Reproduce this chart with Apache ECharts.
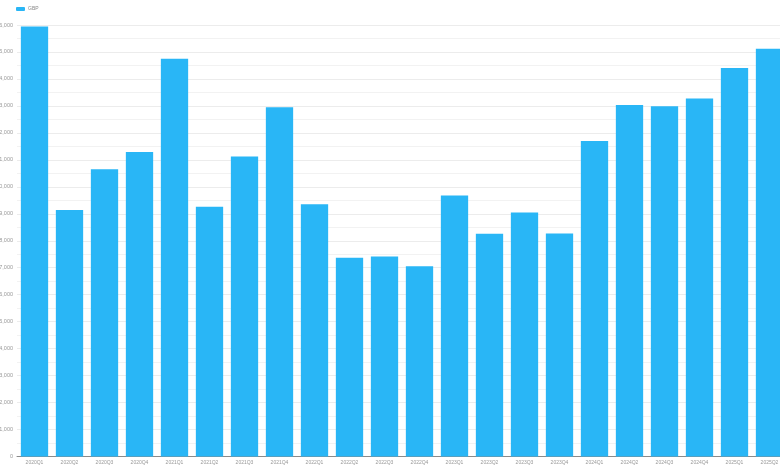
<!DOCTYPE html>
<html>
<head>
<meta charset="utf-8">
<script src="https://cdn.jsdelivr.net/npm/echarts@6/dist/echarts.min.js"></script>
<style>
html,body{margin:0;padding:0;overflow:hidden;background:#fff;}
#chart{width:787px;height:470px;}
</style>
</head>
<body>
<div id="chart"></div>
<script>
var categories = ["2020Q1","2020Q2","2020Q3","2020Q4","2021Q1","2021Q2","2021Q3","2021Q4","2022Q1","2022Q2","2022Q3","2022Q4","2023Q1","2023Q2","2023Q3","2023Q4","2024Q1","2024Q2","2024Q3","2024Q4","2025Q1","2025Q2"];
var gbpValues = [15940,9140,10650,11290,14750,9260,11120,12950,9350,7370,7420,7050,9680,8260,9050,8270,11700,13030,12990,13270,14410,15120];
var seriesName = "GBP";

var chart = echarts.init(document.getElementById('chart'), null, {renderer:'canvas'});
chart.setOption({
  animation: false,
  backgroundColor: '#ffffff',
  legend: {
    left: 16, top: 6.5, padding: 0,
    itemWidth: 9, itemHeight: 4, itemGap: 6,
    textStyle: {fontSize: 5, color: '#888', padding: [0,0,0,-2]},
    data: [seriesName]
  },
  grid: {left: 17, right: 0, top: 25, bottom: 13.5, containLabel: false, outerBoundsMode: 'none'},
  xAxis: {
    type: 'category',
    data: categories,
    axisTick: {show: false},
    axisLine: {lineStyle: {color: '#8a8a8a'}},
    axisLabel: {fontSize: 5, color: '#999', margin: 4, interval: 0}
  },
  yAxis: {
    type: 'value',
    min: 0, max: 16000, interval: 1000,
    axisLabel: {fontSize: 5.5, color: '#999', margin: 4,
      formatter: function(v){ return v.toLocaleString('en-US'); }},
    splitLine: {lineStyle: {color: '#ececec'}},
    minorTick: {show: false, splitNumber: 2},
    minorSplitLine: {show: true, lineStyle: {color: '#f2f2f2'}}
  },
  series: [{
    name: seriesName,
    type: 'bar',
    data: gbpValues,
    barCategoryGap: '22%',
    itemStyle: {color: '#29B6F6'}
  }]
});
</script>
</body>
</html>
